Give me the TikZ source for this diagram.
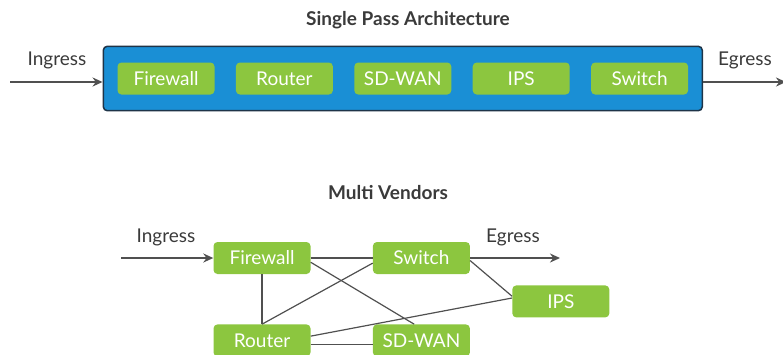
\documentclass[tikz,border=0pt]{standalone}
\usepackage{fontspec}
\setmainfont{Lato}
\usepackage{xcolor}
\usetikzlibrary{positioning,fit,arrows.meta,calc,backgrounds}

\definecolor{vgreen}{HTML}{8CC63F}
\definecolor{vblue}{HTML}{1A8FD5}
\definecolor{vnavy}{HTML}{1E3448}
\definecolor{vgray}{HTML}{505050}
\definecolor{vtext}{HTML}{3A3A3A}

\begin{document}
\begin{tikzpicture}[x=1pt, y=-1pt,
        func/.style={fill=vgreen, rounded corners=4pt, minimum width=97pt, minimum height=32pt, inner sep=0pt, text=white, font=\fontsize{19}{21}\selectfont},
        chassis/.style={draw=vnavy, line width=1.5pt, fill=vblue, rounded corners=4pt, inner xsep=14pt, inner ysep=16pt},
        flow/.style={-{Stealth[length=10pt,width=9pt]}, line width=1.8pt, draw=vgray},
        link/.style={line width=1.2pt, draw=vgray},
        lbl/.style={text=vtext, font=\fontsize{19}{21}\selectfont},
        title/.style={text=vtext, font=\fontsize{19}{21}\selectfont\bfseries},
        node distance=21pt
    ]
    \useasboundingbox (0,0) rectangle (783,354);

    % Single pass
    \node[title] (sptitle) at (408,20) {Single Pass Architecture};
    \node[func] (fw1) at (166,78.5) {Firewall};
    \node[func, right=of fw1] (rt1) {Router};
    \node[func, right=of rt1] (sd1) {SD-WAN};
    \node[func, right=of sd1] (ips1) {IPS};
    \node[func, right=of ips1] (sw1) {Switch};
    \begin{scope}[on background layer]
    \node[chassis, fit=(fw1)(sw1)] (box) {};
    \end{scope}

    \coordinate (in1) at (10,82);
    \coordinate (out1) at (786,82);
    \node[lbl] (ing1) at (57,60) {Ingress};
    \node[lbl] (eg1) at (745,60) {Egress};
    \draw[flow] (in1) -- (in1 -| box.west);
    \draw[flow] (in1 -| box.east) -- (out1);

    % Multi vendors
    \node[title] (mvtitle) at (388,193) {Multi Vendors};
    \node[func] (fw2) at (262,258) {Firewall};
    \node[func, right=62pt of fw2] (sw2) {Switch};
    \node[func, below=50pt of fw2] (rt2) {Router};
    \node[func, below=50pt of sw2] (sd2) {SD-WAN};
    \node[func, below right=11pt and 42pt of sw2.south east, anchor=north west] (ips2) {IPS};

    \coordinate (in2) at (121,258);
    \coordinate (out2) at (560,258);
    \node[lbl] (ing2) at (166,237) {Ingress};
    \node[lbl] (eg2) at (513,237) {Egress};
    \draw[flow] (in2) -- (fw2);
    \draw[flow] (sw2) -- (out2);

    \draw[link] (fw2) -- (sw2);
    \draw[link] (fw2) -- (rt2);
    \draw[link] (fw2.-5) -- (sd2.114);
    \draw[link] (rt2.north) -- (sw2.-174);
    \draw[link] (sw2.-3) -- (ips2.174);
    \draw[link] (rt2.5) -- (ips2.176);
    \draw[link] (rt2.-5) -- (sd2.-175);

\end{tikzpicture}
\end{document}
